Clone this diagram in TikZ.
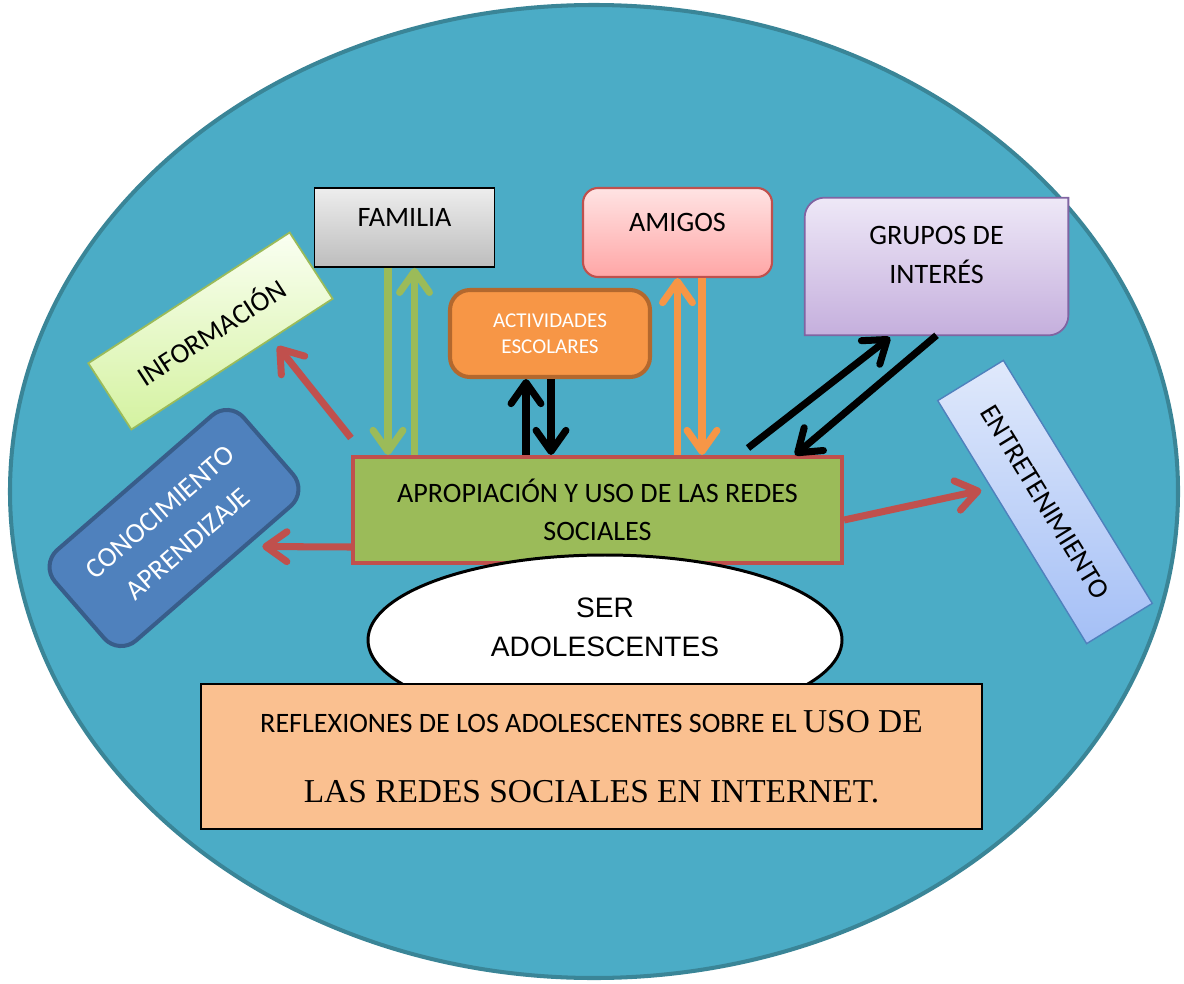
\documentclass[tikz,border=0pt]{standalone}
\usepackage{fontspec}
\setmainfont{Carlito}
\newfontfamily\arialfont{Liberation Sans}
\newfontfamily\timesfont{Liberation Serif}
\usetikzlibrary{arrows.meta,shapes.geometric,calc}
\definecolor{fondo}{HTML}{4BACC6}
\definecolor{borde}{HTML}{3A8597}
\definecolor{famtop}{HTML}{EDEDED}
\definecolor{fambot}{HTML}{BDBDBD}
\definecolor{amitop}{HTML}{FFE3E3}
\definecolor{amibot}{HTML}{FFA6A6}
\definecolor{rojo}{HTML}{C0504D}
\definecolor{naranja}{HTML}{F79646}
\definecolor{actborde}{HTML}{B3682E}
\definecolor{grutop}{HTML}{EEE8F7}
\definecolor{grubot}{HTML}{C5AFDD}
\definecolor{gruborde}{HTML}{8064A2}
\definecolor{inftop}{HTML}{FAFFF2}
\definecolor{infbot}{HTML}{D4F2A0}
\definecolor{verde}{HTML}{9BBB59}
\definecolor{confill}{HTML}{4F81BD}
\definecolor{conborde}{HTML}{385D8A}
\definecolor{enttop}{HTML}{E0E9FB}
\definecolor{entbot}{HTML}{A4BFF6}
\definecolor{refl}{HTML}{FAC090}

\begin{document}
\begin{tikzpicture}[x=0.2cm,y=0.2cm]
\tikzstyle{every node}+=[inner sep=0pt]
\tikzstyle{texto}=[font=\fontsize{16}{22}\selectfont, align=center]
\tikzstyle{flecha}=[line width=4pt, -{Straight Barb[length=12pt,width=17pt,round]}]

\useasboundingbox (0,0) rectangle (118.4,-98.3);
\draw [line width=2.3pt, draw=borde, fill=fondo] (59.4,-49.15) ellipse [x radius=58.4, y radius=48.65];

\node [draw=black, line width=1pt, top color=famtop, bottom color=fambot, minimum width=3.6cm, minimum height=1.58cm] (fam) at (40.45,-22.75) {};
\node [texto] (famtxt) at (40.45,-21.75) {FAMILIA};

\node [draw=rojo, line width=1.2pt, rounded corners=0.3cm, top color=amitop, bottom color=amibot, minimum width=3.78cm, minimum height=1.78cm] (ami) at (67.75,-23.25) {};
\node [texto] (amitxt) at (67.75,-22.2) {AMIGOS};

\node [draw=actborde, line width=2.3pt, rounded corners=0.4cm, fill=naranja, minimum width=4cm, minimum height=1.74cm, text=white, align=center, font=\fontsize{12}{14.5}\selectfont] (act) at (55,-33.35) {ACTIVIDADES\\ESCOLARES};

\node [minimum width=5.26cm, minimum height=2.74cm] (gru) at (93.65,-26.65) {};
\draw [draw=gruborde, line width=1pt, top color=grutop, bottom color=grubot] (gru.north east) -- ([yshift=0.4cm]gru.south east) arc (0:-90:0.4cm) -- (gru.south west) -- ([yshift=-0.4cm]gru.north west) arc (180:90:0.4cm) -- cycle;
\node [texto] (grutxt) at (93.65,-25.5) {GRUPOS DE\\INTERÉS};

\node [rotate=33, draw=verde, line width=1pt, top color=inftop, bottom color=infbot, minimum width=4.8cm, minimum height=1.58cm, texto] (inf) at (21.05,-33.1) {INFORMACIÓN};

\node [rotate=41, draw=conborde, line width=2.3pt, rounded corners=0.45cm, fill=confill, text=white, minimum width=5cm, minimum height=2.4cm, texto, font=\fontsize{16}{24}\selectfont] (con) at (17.4,-52.8) {CONOCIMIENTO\\APRENDIZAJE};

\node [rotate=-58.5, draw=confill, line width=0.8pt, top color=enttop, bottom color=entbot, minimum width=5.7cm, minimum height=1.54cm, texto] (ent) at (104.5,-50.2) {ENTRETENIMIENTO};

\node [draw=rojo, line width=2.3pt, fill=verde, minimum width=9.78cm, minimum height=2.12cm, texto, font=\fontsize{16}{21.5}\selectfont] (apr) at (59.75,-51) {APROPIACIÓN Y USO DE LAS REDES\\SOCIALES};

\node [ellipse, draw=black, line width=1.7pt, fill=white, minimum width=9.48cm, minimum height=3.4cm] (ser) at (60.5,-64) {};
\node [align=center, font=\arialfont\fontsize{16}{22}\selectfont] (sertxt) at (60.5,-62.7) {SER\\ADOLESCENTES};

\node [draw=black, line width=1pt, fill=refl, minimum width=15.62cm, minimum height=2.9cm, align=center, font=\fontsize{16}{20}\selectfont] (refl) at (59.15,-75.65) {REFLEXIONES DE LOS ADOLESCENTES SOBRE EL {\timesfont\fontsize{19}{20}\selectfont USO DE}\\[20pt]{\timesfont\fontsize{19}{20}\selectfont LAS REDES SOCIALES EN INTERNET.}};

\draw [flecha, draw=verde] ($(fam.south)+(-1.65,0)$) -- ($(fam.south |- apr.north)+(-1.65,0)$);
\draw [flecha, draw=verde] ($(fam.south |- apr.north)+(1,0)$) -- ($(fam.south)+(1,0)$);
\draw [flecha] ($(act.south |- apr.north)+(-2.4,0)$) -- ($(act.south)+(-2.4,0)$);
\draw [flecha] ($(act.south)+(0.1,0)$) -- ($(act.south |- apr.north)+(0.1,0)$);
\draw [flecha, draw=naranja] (ami.south |- apr.north) -- (ami.south);
\draw [flecha, draw=naranja] ($(ami.south)+(2.45,0)$) -- ($(ami.south |- apr.north)+(2.45,0)$);
\draw [flecha] ($(apr.north east)+(-9.6,0.7)$) -- ($(gru.south)+(-4.65,-0.2)$);
\draw [flecha] (gru.south) -- ($(apr.north east)+(-4.9,0)$);
\draw [flecha, draw=rojo, shorten >=0.18cm] ($(apr.north west)+(0,1.7)$) -- ($(inf.south)!0.39!(inf.south east)$);
\draw [flecha, draw=rojo, shorten >=0.3cm] ($(apr.west)+(0,-3.7)$) -- ($(con.south east)!0.33!(con.south west)$);
\draw [flecha, draw=rojo, shorten >=0.19cm] ($(apr.east)+(0,-1)$) -- ($(ent.south west)!0.36!(ent.south east)$);
\end{tikzpicture}
\end{document}
